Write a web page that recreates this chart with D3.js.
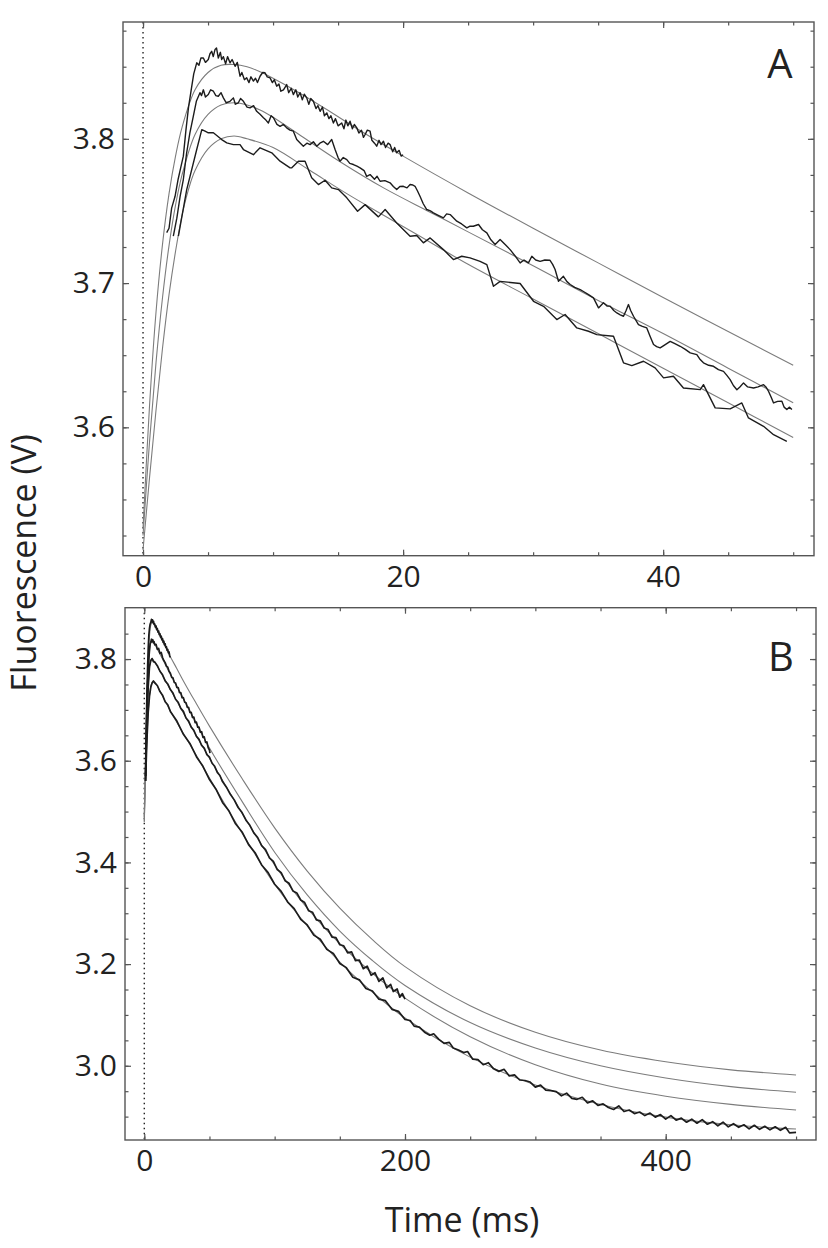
<!DOCTYPE html>
<html><head><meta charset="utf-8">
<script src="https://cdn.jsdelivr.net/npm/d3@7"></script>
<style>
body{margin:0;background:#fff;}
svg{display:block;}
</style></head><body>
<svg id="c" width="828" height="1248"></svg>
<script>
// ---------------- Panel A data (time in ms, fluorescence in V) ----------------
const aFit1 = [[0,3.530],[0.5,3.615],[1,3.680],[1.5,3.727],[2,3.762],[2.5,3.788],[3,3.808],[4,3.834],[5,3.846],[6,3.851],[7,3.8515],[8,3.850],[9,3.8465],[10,3.842],[12,3.832],[14,3.821],[17,3.804],[20,3.788],[25,3.7625],[30,3.738],[35,3.714],[40,3.690],[45,3.6665],[50,3.643]];
const aFit2 = [[0,3.525],[0.5,3.590],[1,3.645],[1.5,3.690],[2,3.726],[2.5,3.754],[3,3.775],[4,3.803],[5,3.817],[6,3.8235],[7,3.825],[8,3.8235],[9,3.820],[10,3.815],[12,3.803],[15,3.785],[18.5,3.766],[22,3.7495],[25,3.7355],[30,3.712],[35,3.688],[40,3.665],[45,3.641],[50,3.617]];
const aFit3 = [[0,3.515],[0.5,3.565],[1,3.612],[1.5,3.655],[2,3.692],[2.5,3.722],[3,3.747],[3.5,3.765],[4,3.778],[5,3.793],[6,3.800],[7,3.802],[8,3.800],[10,3.794],[12.85,3.778],[15.67,3.762],[18.5,3.747],[21,3.734],[25,3.713],[30,3.689],[35,3.665],[40,3.641],[45,3.617],[50,3.593]];
const aData1 = [[1.82,3.735],[2.0,3.738],[2.2,3.752],[2.46,3.760],[2.7,3.772],[2.9,3.780],[3.1,3.788],[3.3,3.806],[3.5,3.822],[3.75,3.8365],[3.9,3.845],[4.13,3.8527],[4.3,3.851],[4.45,3.856],[4.64,3.856],[4.8,3.853],[5.02,3.855],[5.15,3.859],[5.28,3.8607],[5.4,3.857],[5.54,3.862],[5.65,3.863],[5.79,3.856],[5.95,3.860],[6.05,3.855],[6.18,3.857],[6.35,3.852],[6.5,3.857],[6.69,3.8527],[6.85,3.855],[7.08,3.8503],[7.25,3.853],[7.46,3.8434],[7.6,3.846],[7.8,3.841],[7.97,3.8423],[8.15,3.839],[8.3,3.843],[8.49,3.840],[8.65,3.842],[8.8,3.839],[9.0,3.8434],[9.2,3.846],[9.38,3.8458],[9.55,3.843],[9.77,3.8423],[9.95,3.839],[10.1,3.841],[10.28,3.8365],[10.45,3.838],[10.6,3.833],[10.8,3.834],[11.05,3.8376],[11.2,3.832],[11.4,3.835],[11.56,3.8307],[11.75,3.834],[11.9,3.829],[12.08,3.832],[12.25,3.827],[12.4,3.831],[12.59,3.8284],[12.75,3.824],[12.9,3.828],[13.1,3.826],[13.3,3.821],[13.45,3.823],[13.62,3.8191],[13.8,3.822],[13.95,3.816],[14.13,3.818],[14.3,3.814],[14.45,3.816],[14.64,3.811],[14.8,3.814],[15.0,3.809],[15.28,3.811],[15.45,3.807],[15.6,3.813],[15.75,3.809],[15.92,3.8122],[16.1,3.807],[16.25,3.810],[16.44,3.8076],[16.6,3.804],[16.8,3.806],[16.95,3.801],[17.08,3.803],[17.25,3.806],[17.46,3.8053],[17.6,3.799],[17.8,3.797],[17.97,3.7949],[18.15,3.799],[18.3,3.796],[18.49,3.7983],[18.65,3.794],[18.85,3.797],[19.0,3.796],[19.2,3.791],[19.35,3.794],[19.5,3.7903],[19.7,3.792],[19.85,3.788],[20.0,3.789]];
const aData2 = [[2.33,3.7325],[2.6,3.745],[2.85,3.760],[3.1,3.7718],[3.35,3.790],[3.6,3.804],[3.87,3.8157],[4.1,3.826],[4.38,3.832],[4.5,3.830],[4.64,3.834],[4.8,3.829],[5.02,3.8307],[5.2,3.834],[5.41,3.833],[5.6,3.830],[5.79,3.8295],[6.0,3.832],[6.18,3.8284],[6.4,3.825],[6.69,3.826],[6.95,3.8284],[7.1,3.824],[7.33,3.825],[7.5,3.828],[7.72,3.826],[8.0,3.822],[8.23,3.8215],[8.5,3.823],[8.74,3.8191],[9.0,3.817],[9.26,3.8146],[9.45,3.813],[9.64,3.811],[9.85,3.816],[10.03,3.8146],[10.3,3.810],[10.54,3.8087],[10.8,3.810],[11.05,3.8076],[11.3,3.806],[11.56,3.8053],[11.82,3.7995],[12.1,3.797],[12.33,3.7949],[12.6,3.797],[12.85,3.796],[13.1,3.798],[13.36,3.7949],[13.6,3.797],[13.87,3.7983],[14.2,3.796],[14.51,3.7995],[14.77,3.7926],[15.0,3.787],[15.15,3.7845],[15.4,3.787],[15.67,3.7856],[15.9,3.783],[16.18,3.7822],[16.45,3.781],[16.69,3.7799],[17.0,3.778],[17.2,3.774],[17.46,3.7752],[17.8,3.772],[18.0,3.774],[18.23,3.7706],[18.6,3.771],[19.0,3.7695],[19.25,3.767],[19.51,3.7648],[19.75,3.767],[20.02,3.7671],[20.3,3.766],[20.54,3.7683],[20.75,3.768],[20.92,3.7671],[21.1,3.764],[21.3,3.7602],[21.55,3.755],[21.82,3.751],[22.1,3.750],[22.33,3.7487],[22.7,3.747],[23.1,3.7452],[23.35,3.748],[23.62,3.7475],[23.9,3.745],[24.13,3.7429],[24.5,3.741],[24.9,3.7383],[25.15,3.7395],[25.4,3.7394],[25.8,3.7406],[26.1,3.737],[26.44,3.7348],[26.75,3.730],[27.08,3.7267],[27.46,3.7302],[27.85,3.7267],[28.23,3.7232],[28.6,3.719],[29.0,3.714],[29.3,3.716],[29.64,3.714],[29.9,3.7186],[30.2,3.716],[30.54,3.7151],[30.9,3.716],[31.3,3.7158],[31.5,3.713],[31.69,3.7094],[31.95,3.7013],[32.33,3.7047],[32.6,3.701],[32.85,3.699],[33.2,3.697],[33.62,3.6955],[33.9,3.694],[34.26,3.692],[34.64,3.6897],[35.03,3.6828],[35.41,3.6863],[35.7,3.684],[35.92,3.684],[36.2,3.681],[36.44,3.6793],[36.7,3.678],[36.95,3.677],[37.15,3.681],[37.33,3.6851],[37.5,3.681],[37.72,3.677],[38.1,3.6712],[38.4,3.670],[38.74,3.6689],[39.0,3.663],[39.26,3.6574],[39.5,3.656],[39.77,3.6551],[40.1,3.657],[40.54,3.6596],[40.9,3.658],[41.31,3.6562],[41.7,3.654],[42.08,3.6516],[42.59,3.6504],[42.85,3.647],[43.1,3.6447],[43.5,3.643],[43.87,3.6423],[44.25,3.640],[44.64,3.6388],[44.9,3.636],[45.15,3.6331],[45.4,3.629],[45.67,3.6261],[45.9,3.628],[46.18,3.6308],[46.5,3.628],[46.95,3.6273],[47.3,3.628],[47.72,3.6296],[47.9,3.628],[48.1,3.625],[48.3,3.621],[48.49,3.6169],[48.8,3.618],[49.13,3.6181],[49.3,3.614],[49.51,3.6123],[49.7,3.614],[49.9,3.6123]];
const aData3 = [[2.72,3.7325],[3.36,3.7648],[4.13,3.7926],[4.52,3.8064],[4.77,3.8053],[5.02,3.8042],[5.41,3.8042],[6.05,3.7995],[6.44,3.7972],[6.95,3.796],[7.46,3.796],[7.72,3.7926],[8.49,3.789],[9.0,3.7938],[9.9,3.7903],[10.54,3.7845],[11.31,3.7799],[11.44,3.7799],[11.95,3.7845],[12.46,3.7845],[12.97,3.773],[13.49,3.7683],[14.0,3.7713],[14.51,3.766],[15.03,3.7648],[15.67,3.7591],[16.5,3.7498],[17.08,3.7544],[18.1,3.7459],[18.62,3.751],[19.51,3.7417],[20.54,3.7325],[21.05,3.733],[21.56,3.7279],[22.08,3.7313],[23.1,3.7232],[23.87,3.7163],[24.51,3.7186],[25.15,3.7175],[25.92,3.7151],[26.44,3.7128],[26.95,3.6978],[27.46,3.7012],[29.0,3.6997],[30.03,3.6874],[30.8,3.6839],[31.82,3.6747],[32.46,3.6782],[33.36,3.6689],[34.26,3.6666],[34.9,3.6643],[36.18,3.6631],[36.95,3.6447],[37.59,3.6428],[38.49,3.6458],[39.38,3.6412],[40.03,3.6343],[40.79,3.6354],[41.56,3.6273],[42.85,3.6261],[43.1,3.6296],[44.0,3.6135],[45.15,3.6128],[46.05,3.6169],[46.56,3.6065],[47.72,3.6007],[48.49,3.5949],[49.51,3.5903]];

// ---------------- Panel B data ----------------
const bFit1 = [[0,3.49],[1,3.62],[2,3.73],[3,3.80],[4,3.845],[5,3.867],[6,3.872],[7,3.871],[8,3.866],[10,3.856],[13,3.840],[16,3.825],[19.7,3.806],[25,3.781],[30,3.757],[36.4,3.728],[50,3.668],[75,3.565],[100,3.468],[125,3.383],[150,3.310],[175,3.248],[200,3.195],[250,3.118],[300,3.066],[350,3.031],[400,3.008],[450,2.992],[500,2.982]];
const bFit2 = [[0,3.49],[1,3.60],[2,3.70],[3,3.77],[4,3.815],[5,3.834],[6,3.837],[7,3.835],[8,3.830],[10,3.820],[15,3.795],[20,3.770],[30,3.722],[40,3.673],[50,3.625],[75,3.520],[100,3.420],[125,3.336],[150,3.265],[175,3.207],[200,3.158],[250,3.085],[300,3.035],[350,3.000],[400,2.976],[450,2.959],[500,2.948]];
const bFit3 = [[0,3.48],[1,3.59],[2,3.68],[3,3.745],[4,3.783],[5,3.797],[6,3.800],[7,3.798],[10,3.786],[20,3.740],[36.4,3.665],[50,3.605],[75,3.497],[100,3.395],[125,3.310],[150,3.240],[175,3.182],[200,3.133],[250,3.057],[300,3.002],[350,2.964],[400,2.940],[450,2.924],[500,2.913]];
const bFit4 = [[0,3.48],[1,3.57],[2,3.64],[3,3.695],[4,3.728],[5,3.746],[6,3.754],[7,3.756],[8,3.755],[10,3.747],[20,3.698],[40,3.610],[60,3.522],[80,3.437],[100,3.357],[125,3.275],[150,3.204],[175,3.145],[200,3.094],[250,3.017],[300,2.962],[350,2.924],[400,2.899],[450,2.884],[500,2.8755]];
const bData1 = [[1,3.57],[1.5,3.66],[2,3.73],[2.5,3.78],[3,3.82],[3.5,3.847],[4,3.861],[4.5,3.869],[5,3.872],[5.5,3.878],[5.9,3.873],[6.3,3.877],[6.7,3.871],[7.1,3.874],[7.5,3.868],[8,3.869],[8.5,3.863],[9,3.865],[9.5,3.858],[10,3.860],[10.5,3.853],[11,3.855],[11.5,3.848],[12,3.850],[12.5,3.843],[13,3.845],[13.5,3.838],[14,3.840],[14.5,3.833],[15,3.835],[15.5,3.828],[16,3.830],[16.5,3.823],[17,3.824],[17.5,3.817],[18,3.819],[18.5,3.812],[19,3.814],[19.5,3.806],[20,3.803]];
const bData2 = [[1,3.56],[1.5,3.64],[2,3.70],[2.5,3.745],[3,3.775],[3.5,3.80],[4,3.818],[4.5,3.830],[5,3.833],[5.5,3.839],[6,3.834],[6.5,3.838],[7,3.832],[7.5,3.834],[8,3.828],[9,3.829],[10,3.819],[11,3.821],[12,3.811],[13,3.813],[14,3.803],[15,3.797],[16,3.793],[17,3.786],[18,3.784],[19,3.776],[20,3.772],[21,3.764],[22,3.763],[23,3.754],[24,3.753],[25,3.744],[26,3.744],[27,3.734],[28,3.734],[29,3.724],[30,3.724],[31,3.715],[32,3.714],[33,3.705],[34,3.705],[35,3.695],[36,3.695],[37,3.685],[38,3.686],[39,3.675],[40,3.676],[41,3.666],[42,3.666],[43,3.656],[44,3.657],[45,3.646],[46,3.647],[47,3.636],[48,3.637],[49,3.626],[50,3.621],[50.4,3.615]];
const bData3 = [[1,3.57],[2,3.68],[3,3.745],[4,3.785],[5,3.797],[6,3.801],[7,3.795],[8,3.794],[10,3.787],[12,3.776],[14,3.769],[16,3.757],[18,3.751],[20,3.740],[22,3.733],[24,3.721],[26,3.715],[28,3.703],[30,3.697],[32,3.684],[34,3.678],[36,3.666],[38,3.660],[40,3.648],[42,3.642],[44,3.630],[46,3.625],[48,3.612],[50,3.607],[52,3.595],[54,3.589],[56,3.577],[58,3.571],[60,3.559],[63,3.548],[66,3.534],[69,3.523],[72,3.508],[75,3.498],[78,3.483],[81,3.473],[84,3.458],[87,3.449],[90,3.433],[93,3.425],[96,3.409],[99,3.402],[102,3.386],[105,3.380],[108,3.364],[111,3.359],[114,3.344],[117,3.340],[120,3.326],[123,3.321],[126,3.305],[129,3.302],[132,3.287],[135,3.285],[138,3.271],[141,3.268],[144,3.253],[147,3.252],[150,3.238],[153,3.236],[156,3.222],[159,3.224],[162,3.207],[165,3.208],[168,3.191],[171,3.196],[174,3.178],[177,3.183],[180,3.166],[183,3.173],[186,3.153],[189,3.160],[191,3.146],[194,3.151],[196,3.135],[198,3.142],[200,3.131]];
const bData4 = [[1,3.56],[2,3.64],[3,3.695],[4,3.727],[5,3.745],[6,3.753],[7,3.757],[8,3.753],[10,3.748],[12,3.736],[14,3.729],[16,3.716],[18,3.710],[20,3.697],[25,3.678],[30,3.652],[35,3.634],[40,3.608],[45,3.589],[50,3.563],[55,3.544],[60,3.518],[65,3.501],[70,3.476],[75,3.460],[80,3.435],[85,3.419],[90,3.395],[95,3.380],[100,3.357],[105,3.343],[110,3.322],[115,3.309],[120,3.288],[125,3.277],[130,3.257],[135,3.249],[140,3.229],[145,3.221],[150,3.201],[155,3.193],[160,3.174],[165,3.169],[170,3.152],[175,3.147],[180,3.131],[185,3.128],[190,3.111],[195,3.107],[200,3.091],[204,3.089],[207,3.078],[211,3.076],[215,3.066],[219,3.060],[222,3.063],[226,3.052],[230,3.044],[234,3.046],[237,3.035],[241,3.031],[245,3.026],[248,3.028],[252,3.013],[256,3.012],[260,3.002],[264,3.006],[268,2.994],[272,2.989],[276,2.993],[280,2.980],[284,2.982],[288,2.972],[292,2.971],[296,2.968],[300,2.958],[304,2.962],[308,2.952],[312,2.951],[316,2.949],[320,2.941],[324,2.946],[328,2.936],[332,2.934],[336,2.938],[340,2.927],[344,2.931],[348,2.922],[352,2.925],[356,2.918],[360,2.914],[364,2.921],[368,2.910],[372,2.913],[376,2.906],[380,2.909],[384,2.902],[388,2.907],[392,2.899],[396,2.904],[400,2.895],[404,2.902],[408,2.893],[412,2.897],[416,2.889],[420,2.895],[424,2.887],[428,2.894],[432,2.885],[436,2.890],[440,2.882],[444,2.889],[448,2.880],[452,2.886],[456,2.879],[460,2.884],[464,2.876],[468,2.883],[472,2.875],[476,2.881],[480,2.874],[484,2.880],[488,2.873],[492,2.879],[495,2.868],[500,2.869]];

// ---------------- Ticks ----------------
const aXMajor = [0, 20, 40];
const aXMinor = [0, 5, 10, 15, 20, 25, 30, 35, 40, 45, 50];
const aYMajor = [3.6, 3.7, 3.8];
const aYMinor = [3.525, 3.55, 3.575, 3.6, 3.625, 3.65, 3.675, 3.7, 3.725, 3.75, 3.775, 3.8, 3.825, 3.85, 3.875];
const bXMajor = [0, 200, 400];
const bXMinor = [0, 50, 100, 150, 200, 250, 300, 350, 400, 450, 500];
const bYMajor = [3.0, 3.2, 3.4, 3.6, 3.8];
const bYMinor = [2.9, 2.95, 3.0, 3.05, 3.1, 3.15, 3.2, 3.25, 3.3, 3.35, 3.4, 3.45, 3.5, 3.55, 3.6, 3.65, 3.7, 3.75, 3.8, 3.85];

const yTitle = "Fluorescence (V)";
const xTitle = "Time (ms)";

const svg = d3.select("#c");
const FONT = "'Open Sans', 'DejaVu Sans', sans-serif";
const AX = "#555";

function panel(o) {
  const g = svg.append("g");
  const [x0, x1] = o.x.range();
  const [yb, yt] = o.y.range();
  const id = "clip" + o.letter;
  svg.append("defs").append("clipPath").attr("id", id)
    .append("rect").attr("x", x0).attr("y", yt).attr("width", x1 - x0).attr("height", yb - yt);

  // dotted zero line
  g.append("line").attr("x1", o.x(0)).attr("x2", o.x(0)).attr("y1", yt).attr("y2", yb)
    .attr("stroke", "#222").attr("stroke-width", 1.4).attr("stroke-dasharray", "1.5,3.5");

  const lineGen = d3.line().x(d => o.x(d[0])).y(d => o.y(d[1]));
  const plot = g.append("g").attr("clip-path", `url(#${id})`);
  o.fits.forEach(f => plot.append("path").datum(f)
    .attr("d", lineGen.curve(d3.curveCatmullRom.alpha(0.5)))
    .attr("fill", "none").attr("stroke", "#7c7c7c").attr("stroke-width", 1.1));
  o.data.forEach(f => plot.append("path").datum(f)
    .attr("d", lineGen.curve(d3.curveLinear))
    .attr("fill", "none").attr("stroke", "#1c1c1c").attr("stroke-width", o.dataWidth)
    .attr("stroke-linejoin", "round"));

  const style = sel => {
    sel.select(".domain").remove();
    sel.selectAll(".tick line").attr("stroke", AX).attr("stroke-width", 1.2);
    sel.selectAll(".tick text").attr("font-family", FONT).attr("font-size", 30)
      .attr("fill", "#222");
  };
  const none = () => "";
  // minor ticks, all four sides
  g.append("g").attr("transform", `translate(0,${yb})`).call(d3.axisBottom(o.x).tickValues(o.xMinor).tickSizeInner(-3.5).tickSizeOuter(0).tickFormat(none)).call(style);
  g.append("g").attr("transform", `translate(0,${yt})`).call(d3.axisTop(o.x).tickValues(o.xMinor).tickSizeInner(-3.5).tickSizeOuter(0).tickFormat(none)).call(style);
  g.append("g").attr("transform", `translate(${x0},0)`).call(d3.axisLeft(o.y).tickValues(o.yMinor).tickSizeInner(-3.5).tickSizeOuter(0).tickFormat(none)).call(style);
  g.append("g").attr("transform", `translate(${x1},0)`).call(d3.axisRight(o.y).tickValues(o.yMinor).tickSizeInner(-3.5).tickSizeOuter(0).tickFormat(none)).call(style);
  // major ticks with labels
  g.append("g").attr("transform", `translate(0,${yb})`).call(d3.axisBottom(o.x).tickValues(o.xMajor).tickSizeInner(-6).tickSizeOuter(0).tickPadding(10).tickFormat(d3.format("d"))).call(style);
  g.append("g").attr("transform", `translate(0,${yt})`).call(d3.axisTop(o.x).tickValues(o.xMajor).tickSizeInner(-6).tickSizeOuter(0).tickFormat(none)).call(style);
  g.append("g").attr("transform", `translate(${x0},0)`).call(d3.axisLeft(o.y).tickValues(o.yMajor).tickSizeInner(-6).tickSizeOuter(0).tickPadding(8).tickFormat(d3.format(".1f"))).call(style);
  g.append("g").attr("transform", `translate(${x1},0)`).call(d3.axisRight(o.y).tickValues(o.yMajor).tickSizeInner(-6).tickSizeOuter(0).tickFormat(none)).call(style);

  // frame
  g.append("rect").attr("x", x0).attr("y", yt).attr("width", x1 - x0).attr("height", yb - yt)
    .attr("fill", "none").attr("stroke", AX).attr("stroke-width", 1.4);

  g.append("text").attr("x", o.letterX).attr("y", o.letterY).attr("text-anchor", "middle")
    .attr("font-family", FONT).attr("font-size", 40).attr("fill", "#222").text(o.letter);
}

panel({
  letter: "A", letterX: 780, letterY: 78, dataWidth: 1.4,
  x: d3.scaleLinear().domain([-1.54, 51.6]).range([123, 814]),
  y: d3.scaleLinear().domain([3.511, 3.881]).range([555.7, 22]),
  xMajor: aXMajor, xMinor: aXMinor, yMajor: aYMajor, yMinor: aYMinor,
  fits: [aFit1, aFit2, aFit3], data: [aData1, aData2, aData3]
});
panel({
  letter: "B", letterX: 781, letterY: 671, dataWidth: 1.7,
  x: d3.scaleLinear().domain([-14.8, 515.3]).range([125, 816]),
  y: d3.scaleLinear().domain([2.854, 3.901]).range([1140, 607.7]),
  xMajor: bXMajor, xMinor: bXMinor, yMajor: bYMajor, yMinor: bYMinor,
  fits: [bFit1, bFit2, bFit3, bFit4], data: [bData1, bData2, bData3, bData4]
});

svg.append("text").attr("transform", "translate(36,563) rotate(-90)").attr("text-anchor", "middle")
  .attr("font-family", FONT).attr("font-size", 34).attr("fill", "#222").text(yTitle);
svg.append("text").attr("x", 462).attr("y", 1232).attr("text-anchor", "middle")
  .attr("font-family", FONT).attr("font-size", 34).attr("fill", "#222").text(xTitle);
</script>
</body></html>
